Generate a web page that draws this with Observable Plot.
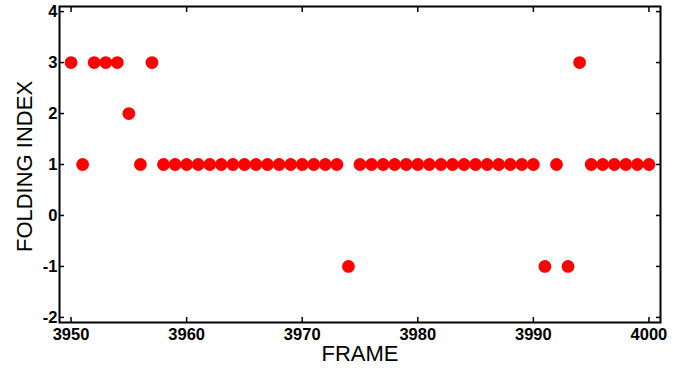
<!DOCTYPE html>
<html>
<head>
<meta charset="utf-8">
<script src="https://cdn.jsdelivr.net/npm/d3@7"></script>
<script src="https://cdn.jsdelivr.net/npm/@observablehq/plot@0.6"></script>
<style>
  html, body { margin: 0; padding: 0; background: #fff; }
  #chart svg { display: block; }
</style>
</head>
<body>
<div id="chart"></div>
<script>
// Folding index recorded for each simulation frame
const frames = d3.range(3950, 4001);
const foldingIndex = [
  3, 1, 3, 3, 3, 2, 1, 3, 1, 1,   // 3950–3959
  1, 1, 1, 1, 1, 1, 1, 1, 1, 1,   // 3960–3969
  1, 1, 1, 1, -1, 1, 1, 1, 1, 1,  // 3970–3979
  1, 1, 1, 1, 1, 1, 1, 1, 1, 1,   // 3980–3989
  1, -1, 1, -1, 3, 1, 1, 1, 1, 1, // 3990–3999
  1                               // 4000
];
const xTicks = [3950, 3960, 3970, 3980, 3990, 4000];
const yTicks = [-2, -1, 0, 1, 2, 3, 4];

const points = frames.map((f, i) => ({frame: f, index: foldingIndex[i]}));

// plain integers with an ASCII hyphen for negatives
const tickFont = {fontSize: 16.5, fontWeight: "bold", fill: "black", tickFormat: (d) => String(d)};

const chart = Plot.plot({
  width: 685,
  height: 369,
  marginLeft: 59,
  marginRight: 25,
  marginTop: 6,
  marginBottom: 47,
  style: {fontFamily: "'Liberation Sans', Arial, sans-serif", color: "black", background: "white"},
  x: {domain: [3949, 4001]},
  y: {domain: [-2.1, 4.1]},
  marks: [
    Plot.dot(points, {x: "frame", y: "index", r: 6.4, fill: "#ff0000", stroke: "none"}),
    // inward ticks on all four sides
    Plot.axisX(xTicks, {anchor: "bottom", tickSize: -5, tickPadding: 11, strokeWidth: 1.5, label: null, ...tickFont}),
    Plot.axisX(xTicks, {anchor: "top", tickSize: -5, tickFormat: () => "", strokeWidth: 1.5, label: null}),
    Plot.axisY(yTicks, {anchor: "left", tickSize: -5, tickPadding: 7, strokeWidth: 1.5, label: null, ...tickFont}),
    Plot.axisY(yTicks, {anchor: "right", tickSize: -5, tickFormat: () => "", strokeWidth: 1.5, label: null}),
    Plot.frame({stroke: "black", strokeWidth: 2}),
    Plot.text(["FRAME"], {frameAnchor: "bottom", textAnchor: "middle", dy: 38, fontSize: 22, fill: "black"}),
    Plot.text(["FOLDING INDEX"], {frameAnchor: "left", textAnchor: "middle", dx: -35, dy: 2, rotate: -90, fontSize: 22, fill: "black"})
  ]
});

document.getElementById("chart").appendChild(chart);
</script>
</body>
</html>
